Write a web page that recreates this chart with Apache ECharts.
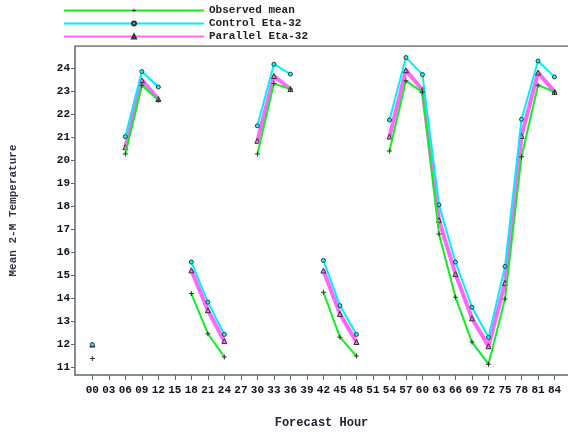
<!DOCTYPE html>
<html>
<head>
<meta charset="utf-8">
<script src="https://cdn.jsdelivr.net/npm/echarts@6/dist/echarts.min.js"></script>
<style>
  html, body { margin: 0; padding: 0; background: #fff; }
  #chart { width: 568px; height: 435px; }
</style>
</head>
<body>
<div id="chart"></div>
<script>
var hours = [0, 3, 6, 9, 12, 15, 18, 21, 24, 27, 30, 33, 36, 39, 42, 45, 48, 51, 54, 57, 60, 63, 66, 69, 72, 75, 78, 81, 84];
var observed = [11.4, null, 20.27, 23.25, 22.6, null, 14.21, 12.47, 11.46, null, 20.27, 23.32, 23.08, null, 14.27, 12.32, 11.5, null, 20.4, 23.44, 22.95, 16.8, 14.05, 12.11, 11.15, 13.98, 20.15, 23.25, 22.96];
var control = [12.0, null, 21.02, 23.84, 23.17, null, 15.58, 13.84, 12.44, null, 21.49, 24.16, 23.73, null, 15.65, 13.69, 12.44, null, 21.74, 24.45, 23.71, 18.06, 15.58, 13.62, 12.31, 15.39, 21.77, 24.3, 23.61];
var parallel = [12.0, null, 20.56, 23.47, 22.65, null, 15.22, 13.49, 12.15, null, 20.84, 23.65, 23.08, null, 15.21, 13.33, 12.11, null, 21.02, 23.9, 23.04, 17.4, 15.06, 13.14, 11.93, 14.67, 21.05, 23.8, 22.96];
var yTicks = [11, 12, 13, 14, 15, 16, 17, 18, 19, 20, 21, 22, 23, 24];

// pair hours with values, '-' leaves a gap in the line
function pairs(vals) {
  return hours.map(function(h, i) {
    return [h, vals[i] == null ? '-' : vals[i]];
  });
}

var font = 'Liberation Mono';
var axisColor = '#5a6a70';
var plusPath = 'path://M2,0h1v2h2v1h-2v2h-1v-2h-2v-1h2z';

var chart = echarts.init(document.getElementById('chart'));
var option = {
  animation: false,
  backgroundColor: '#fff',
  legend: {
    orient: 'vertical',
    left: 58,
    top: 0,
    itemWidth: 140,
    itemHeight: 5,
    itemGap: 2,
    textStyle: { fontFamily: font, fontWeight: 'bold', fontSize: 11, lineHeight: 11, color: '#222' },
    data: ['Observed mean', 'Control Eta-32', 'Parallel Eta-32']
  },
  grid: {
    left: 75,
    top: 46,
    right: 0,
    bottom: 60
  },
  xAxis: {
    type: 'value',
    min: -3.15,
    max: 86.45,
    name: 'Forecast Hour',
    nameLocation: 'middle',
    nameGap: 42,
    nameTextStyle: { fontFamily: font, fontWeight: 'bold', fontSize: 12, color: '#223' },
    axisLine: { onZero: false, lineStyle: { color: axisColor, width: 1.5 } },
    axisTick: { show: true, customValues: hours, length: 5, lineStyle: { color: axisColor } },
    axisLabel: {
      customValues: hours,
      margin: 10,
      fontFamily: font,
      fontWeight: 'bold',
      fontSize: 11,
      color: '#112',
      formatter: function(v) { return (v < 10 ? '0' : '') + v; }
    },
    splitLine: { show: false }
  },
  yAxis: {
    type: 'value',
    min: 10.68,
    max: 24.95,
    name: 'Mean 2-M Temperature',
    nameLocation: 'middle',
    nameGap: 56,
    nameTextStyle: { fontFamily: font, fontWeight: 'bold', fontSize: 11, color: '#334' },
    axisLine: { show: true, onZero: false, lineStyle: { color: axisColor, width: 1.5 } },
    axisTick: { show: true, customValues: yTicks, length: 4, lineStyle: { color: axisColor } },
    axisLabel: {
      customValues: yTicks,
      margin: 5,
      fontFamily: font,
      fontWeight: 'bold',
      fontSize: 11,
      color: '#112'
    },
    splitLine: { show: false }
  },
  series: [
    {
      name: 'Parallel Eta-32',
      type: 'line',
      data: pairs(parallel),
      z: 2,
      symbol: 'triangle',
      symbolSize: 5,
      itemStyle: { color: '#ff66ff', borderColor: '#333', borderWidth: 1 },
      lineStyle: { color: '#ff66ff', width: 4 }
    },
    {
      name: 'Control Eta-32',
      type: 'line',
      data: pairs(control),
      z: 3,
      symbol: 'circle',
      symbolSize: 4,
      itemStyle: { color: '#00ffff', borderColor: '#333', borderWidth: 1 },
      lineStyle: { color: '#00eeff', width: 2 }
    },
    {
      name: 'Observed mean',
      type: 'line',
      data: pairs(observed),
      z: 4,
      symbol: plusPath,
      symbolSize: 5,
      itemStyle: { color: '#333' },
      lineStyle: { color: '#11ee22', width: 2 }
    },
    // top frame line of the plot area
    {
      type: 'line',
      data: [[-3.15, 24.95], [86.45, 24.95]],
      symbol: 'none',
      silent: true,
      lineStyle: { color: axisColor, width: 1.5 },
      tooltip: { show: false }
    }
  ]
};
chart.setOption(option);
</script>
</body>
</html>
